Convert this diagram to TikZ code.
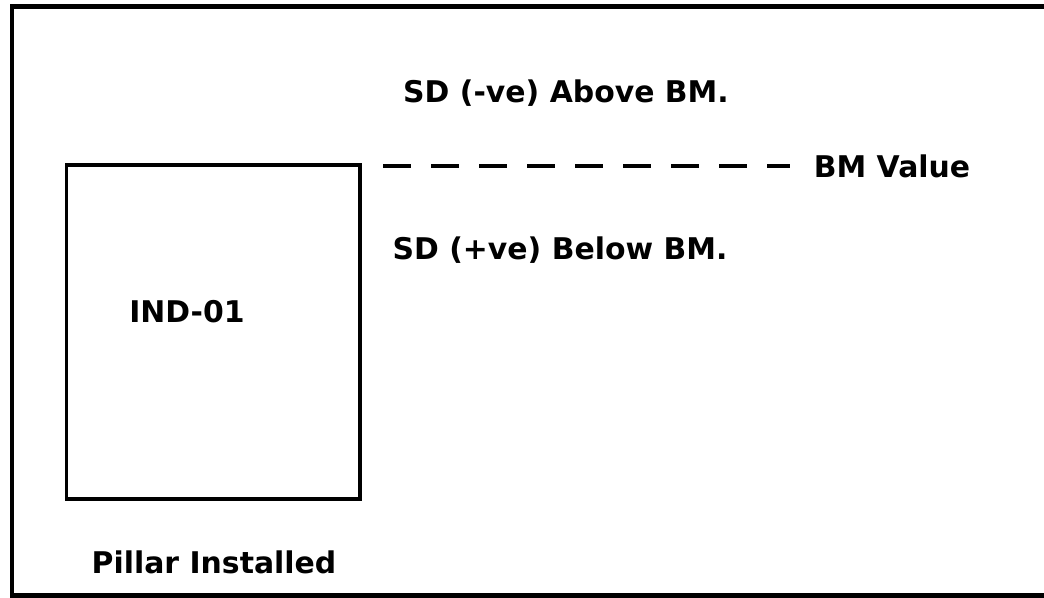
\documentclass[tikz,border=0pt]{standalone}
\usepackage{fontspec}
\setmainfont{DejaVu Sans}
\begin{document}
\begin{tikzpicture}[x=0.03cm, y=-0.03cm,
		lbl/.style={font=\bfseries\fontsize{25.5}{30}\selectfont, inner sep=0pt, anchor=base}]
		\useasboundingbox (0,0) rectangle (1044,598);
		\draw [line width=4.2pt] (1050,6.5)--(12,6.5)--(12,595.5)--(1050,595.5);
		\draw [line width=2.6pt] (66.5,165) rectangle (360,499);
		\coordinate (bmstart) at (383,166);
		\coordinate (bmend) at (790,166);
		\draw [line width=3.4pt, dash pattern=on 0.84cm off 0.6cm] (bmstart)--(bmend);
		\node[lbl] (above) at (566,103) {SD (-ve) Above BM.};
		\node[lbl] (bmvalue) at (892,178) {BM Value};
		\node[lbl] (below) at (560,260) {SD (+ve) Below BM.};
		\node[lbl] (pillarid) at (187,322) {IND-01};
		\node[lbl] (pillarcap) at (214,573) {Pillar Installed};
	\end{tikzpicture}
\end{document}
